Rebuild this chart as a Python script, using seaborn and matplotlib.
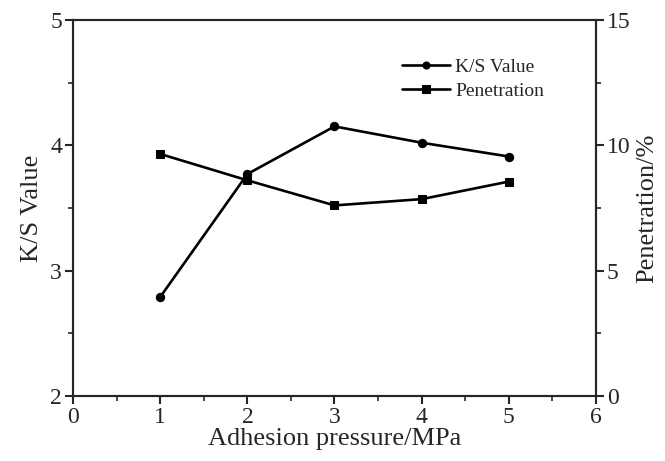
import matplotlib
matplotlib.use("Agg")
import matplotlib.pyplot as plt
from matplotlib.ticker import AutoMinorLocator, MultipleLocator
import seaborn as sns
import pandas as pd

# data
pressure = [1, 2, 3, 4, 5]
ks_value = [2.79, 3.77, 4.15, 4.02, 3.91]
penetration = [9.65, 8.6, 7.6, 7.85, 8.55]

df = pd.DataFrame({"pressure": pressure, "ks": ks_value, "pen": penetration})

sns.set_style("ticks")
plt.rcParams["font.family"] = ["Liberation Serif", "DejaVu Serif"]

fig = plt.figure(figsize=(6.65, 4.61), dpi=100)
ax = fig.add_axes([0.11, 0.141, 0.786, 0.816])
ax2 = ax.twinx()

sns.lineplot(data=df, x="pressure", y="ks", ax=ax, color="black", marker="o",
             markersize=6, linewidth=1.9, markeredgecolor="black", label="K/S Value", legend=False)
sns.lineplot(data=df, x="pressure", y="pen", ax=ax2, color="black", marker="s",
             markersize=6, linewidth=1.9, markeredgecolor="black", label="Penetration", legend=False)

ax.set_xlim(0, 6)
ax.set_ylim(2, 5)
ax2.set_ylim(0, 15)
ax.xaxis.set_major_locator(MultipleLocator(1))
ax.yaxis.set_major_locator(MultipleLocator(1))
ax2.yaxis.set_major_locator(MultipleLocator(5))
ax.xaxis.set_minor_locator(AutoMinorLocator(2))
ax.yaxis.set_minor_locator(AutoMinorLocator(2))
ax2.yaxis.set_minor_locator(AutoMinorLocator(2))

for a in (ax, ax2):
    a.tick_params(which="major", direction="out", length=6, width=1.5, labelsize=17, pad=2)
    a.tick_params(which="minor", direction="out", length=3.5, width=1.2)
    for s in a.spines.values():
        s.set_linewidth(1.5)
        s.set_visible(True)

ax.set_xlabel("Adhesion pressure/MPa", fontsize=19, labelpad=0)
ax.set_ylabel("K/S Value", fontsize=19, labelpad=5)
ax2.set_ylabel("Penetration/%", fontsize=19, labelpad=4)

h1, l1 = ax.get_legend_handles_labels()
h2, l2 = ax2.get_legend_handles_labels()
ax.legend(h1 + h2, l1 + l2, loc="upper left", bbox_to_anchor=(0.603, 0.933),
          frameon=False, fontsize=14, handlelength=2.45, handletextpad=0.3,
          labelspacing=0.3, borderpad=0.2, markerscale=0.85)

fig.savefig("out.png", dpi=100)
